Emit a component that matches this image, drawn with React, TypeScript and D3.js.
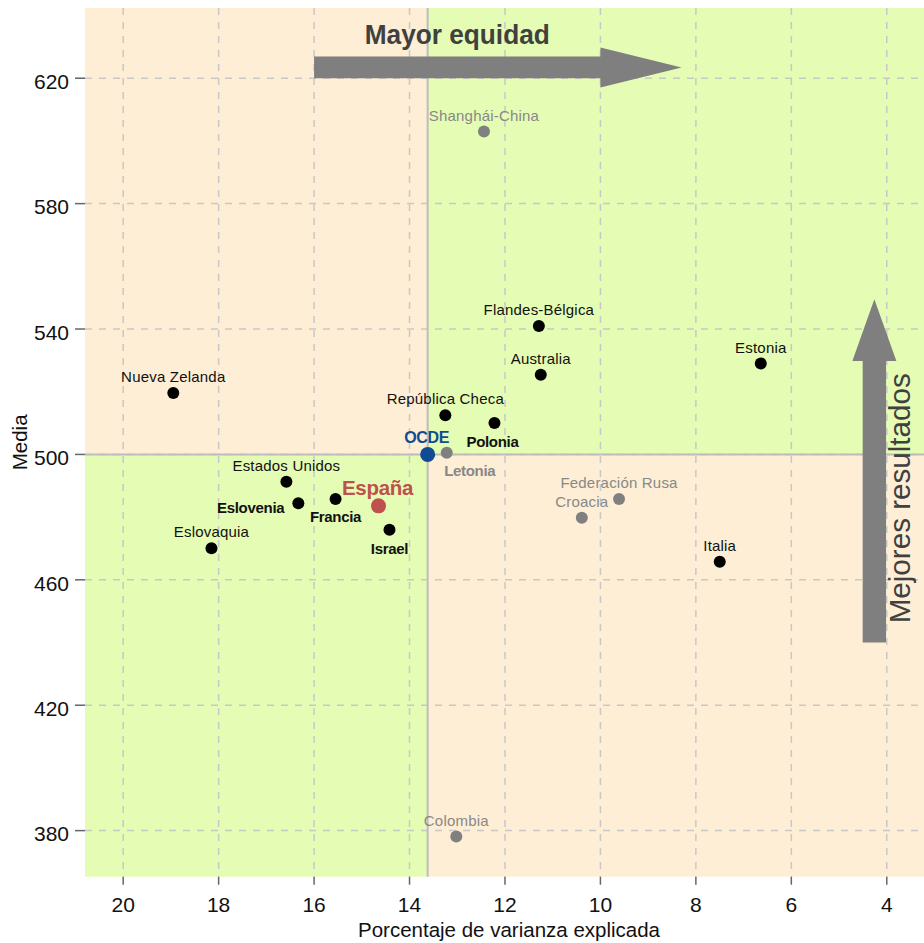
import React from "react";
import * as d3 from "d3";

// ---- Data ----
const countries = [
  "Shanghái-China", "Flandes-Bélgica", "Australia", "Estonia", "República Checa",
  "Polonia", "OCDE", "Letonia", "España", "Israel", "Francia", "Eslovenia",
  "Estados Unidos", "Eslovaquia", "Nueva Zelanda", "Federación Rusa", "Croacia",
  "Italia", "Colombia",
];
const pctVarianza = [
  12.44, 11.29, 11.25, 6.64, 13.25,
  12.22, 13.62, 13.22, 14.65, 14.42, 15.55, 16.33,
  16.58, 18.15, 18.95, 9.61, 10.39,
  7.5, 13.02,
];
const media = [
  603, 541, 525.4, 529, 512.5,
  510, 500, 500.5, 483.6, 476, 485.8, 484.4,
  491.3, 470.1, 519.6, 485.8, 479.8,
  465.8, 378.1,
];
const grupo = [
  "gris", "pais", "pais", "pais", "pais",
  "pais", "ocde", "gris", "espana", "pais", "pais", "pais",
  "pais", "pais", "pais", "gris", "gris",
  "pais", "gris",
];
const xTicks = [20, 18, 16, 14, 12, 10, 8, 6, 4];
const yTicks = [380, 420, 460, 500, 540, 580, 620];
const umbralX = 13.62;
const umbralY = 500;
const xTitle = "Porcentaje de varianza explicada";
const yTitle = "Media";
// arrows (data coords)
const arrowEquidad = { x0: 16, x1: 8.3, headBase: 10, y: 623.45, label: "Mayor equidad", lx: 13.0, ly: 630.8 };
const arrowResultados = { x: 4.26, y0: 440, y1: 549.5, headBase: 529.8, label: "Mejores resultados", lx: 3.51, ly: 486 };

// ---- label placement (style) ----
const labelPlacement: Record<string, { dx: number; dy: number; anchor: string }> = {
  "Polonia": { dx: -2, dy: 23.5, anchor: "middle" },
  "Letonia": { dx: 23, dy: 23.5, anchor: "middle" },
  "Israel": { dx: 0, dy: 24, anchor: "middle" },
  "Francia": { dx: 0, dy: 23.5, anchor: "middle" },
  "Eslovenia": { dx: -14, dy: 9.4, anchor: "end" },
  "España": { dx: -1, dy: -11, anchor: "middle" },
  "OCDE": { dx: -1, dy: -11.5, anchor: "middle" },
};
const boldLabels = new Set(["Polonia", "Letonia", "Israel", "Francia", "Eslovenia", "OCDE", "España"]);

const W = 924, H = 943;
const P = { left: 85, right: 924, top: 8, bottom: 876.7 };
const FONT = "'Liberation Sans', Arial, Helvetica, sans-serif";
const ORANGE = "#FEEED5";
const GREEN = "#E4FCB3";
const GRAY = "#808080";

export default function App() {
  const x = d3.scaleLinear().domain([20.8, 3.22]).range([P.left, P.right]);
  const y = d3.scaleLinear().domain([642.4, 365.3]).range([P.top, P.bottom]);
  const xd = x(umbralX), yd = y(umbralY);

  const colorOf = (g: string) =>
    g === "ocde" ? "#0F4C94" : g === "espana" ? "#C0504D" : g === "gris" ? GRAY : "#000";
  const textColorOf = (g: string) =>
    g === "ocde" ? "#0F4C94" : g === "espana" ? "#C0504D" : g === "gris" ? "#888888" : "#111";

  // horizontal arrow
  const ha = arrowEquidad;
  const hx0 = x(ha.x0), hx1 = x(ha.x1), hb = x(ha.headBase), hy = y(ha.y);
  const hPath = `M${hx0},${hy - 10.8} L${hb},${hy - 10.8} L${hb},${hy - 20} L${hx1},${hy} L${hb},${hy + 20} L${hb},${hy + 10.8} L${hx0},${hy + 10.8} Z`;
  // vertical arrow
  const va = arrowResultados;
  const vx = x(va.x), vy0 = y(va.y0), vy1 = y(va.y1), vb = y(va.headBase);
  const vPath = `M${vx - 11.7},${vy0} L${vx - 11.7},${vb} L${vx - 22},${vb} L${vx},${vy1} L${vx + 22},${vb} L${vx + 11.7},${vb} L${vx + 11.7},${vy0} Z`;

  return (
    <svg width={W} height={H} style={{ position: "absolute", left: 0, top: 0, display: "block" }} fontFamily={FONT}>
      <defs>
        <clipPath id="panel">
          <rect x={P.left} y={P.top} width={P.right - P.left} height={P.bottom - P.top} />
        </clipPath>
      </defs>
      <rect x={0} y={0} width={W} height={H} fill="#fff" />
      {/* quadrants */}
      <rect x={P.left} y={P.top} width={xd - P.left} height={yd - P.top} fill={ORANGE} />
      <rect x={xd} y={P.top} width={P.right - xd} height={yd - P.top} fill={GREEN} />
      <rect x={P.left} y={yd} width={xd - P.left} height={P.bottom - yd} fill={GREEN} />
      <rect x={xd} y={yd} width={P.right - xd} height={P.bottom - yd} fill={ORANGE} />
      {/* grid */}
      <g clipPath="url(#panel)" stroke="#C8C8C8" strokeWidth={1.5} strokeDasharray="7,7">
        {xTicks.map((t) => (
          <line key={"gx" + t} x1={x(t)} x2={x(t)} y1={P.top} y2={P.bottom} />
        ))}
        {yTicks.map((t) => (
          <line key={"gy" + t} x1={P.left} x2={P.right} y1={y(t)} y2={y(t)} />
        ))}
      </g>
      {/* dividers */}
      <line x1={xd} x2={xd} y1={P.top} y2={P.bottom} stroke="#BDBDBD" strokeWidth={2} />
      <line x1={P.left} x2={P.right} y1={yd} y2={yd} stroke="#BDBDBD" strokeWidth={2} />
      {/* arrows */}
      <path d={hPath} fill="#7F7F7F" />
      <path d={vPath} fill="#7F7F7F" />
      <text x={x(ha.lx)} y={y(ha.ly)} textAnchor="middle" fontSize={28} fontWeight="bold" fill="#404040"
        textLength={185} lengthAdjust="spacingAndGlyphs">{ha.label}</text>
      <text transform={`translate(${x(va.lx)},${y(va.ly)}) rotate(-90)`} textAnchor="middle" fontSize={30}
        fill="#404040" textLength={250} lengthAdjust="spacingAndGlyphs">{va.label}</text>
      {/* points */}
      {countries.map((c, i) => {
        const g = grupo[i];
        const big = g === "ocde" || g === "espana";
        return <circle key={"p" + c} cx={x(pctVarianza[i])} cy={y(media[i])} r={big ? 7.5 : 6} fill={colorOf(g)} />;
      })}
      {/* labels */}
      {countries.map((c, i) => {
        const g = grupo[i];
        const pl = labelPlacement[c] || { dx: 0, dy: -11, anchor: "middle" };
        const bold = boldLabels.has(c);
        const fs = g === "espana" ? 20.5 : g === "ocde" ? 16 : bold ? 15 : 15;
        return (
          <text key={"l" + c} x={x(pctVarianza[i]) + pl.dx} y={y(media[i]) + pl.dy} textAnchor={pl.anchor}
            fontSize={fs} fontWeight={bold ? "bold" : "normal"} fill={textColorOf(g)}
            letterSpacing={bold ? -0.3 : 0.2}>
            {c}
          </text>
        );
      })}
      {/* axes */}
      <g stroke="#666" strokeWidth={1.5}>
        {xTicks.map((t) => (
          <line key={"tx" + t} x1={x(t)} x2={x(t)} y1={P.bottom} y2={P.bottom + 8} />
        ))}
        {yTicks.map((t) => (
          <line key={"ty" + t} x1={P.left - 10} x2={P.left} y1={y(t)} y2={y(t)} />
        ))}
      </g>
      {xTicks.map((t) => (
        <text key={"lx" + t} x={x(t)} y={911.5} textAnchor="middle" fontSize={21} fill="#111">{t}</text>
      ))}
      {yTicks.map((t) => (
        <text key={"ly" + t} x={69} y={y(t) + 10.8} textAnchor="end" fontSize={21} fill="#111">{t}</text>
      ))}
      <text x={509} y={936.5} textAnchor="middle" fontSize={20.5} fill="#111">{xTitle}</text>
      <text transform={`translate(26.5,${(P.top + P.bottom) / 2}) rotate(-90)`} textAnchor="middle" fontSize={20.5} fill="#111">{yTitle}</text>
    </svg>
  );
}
